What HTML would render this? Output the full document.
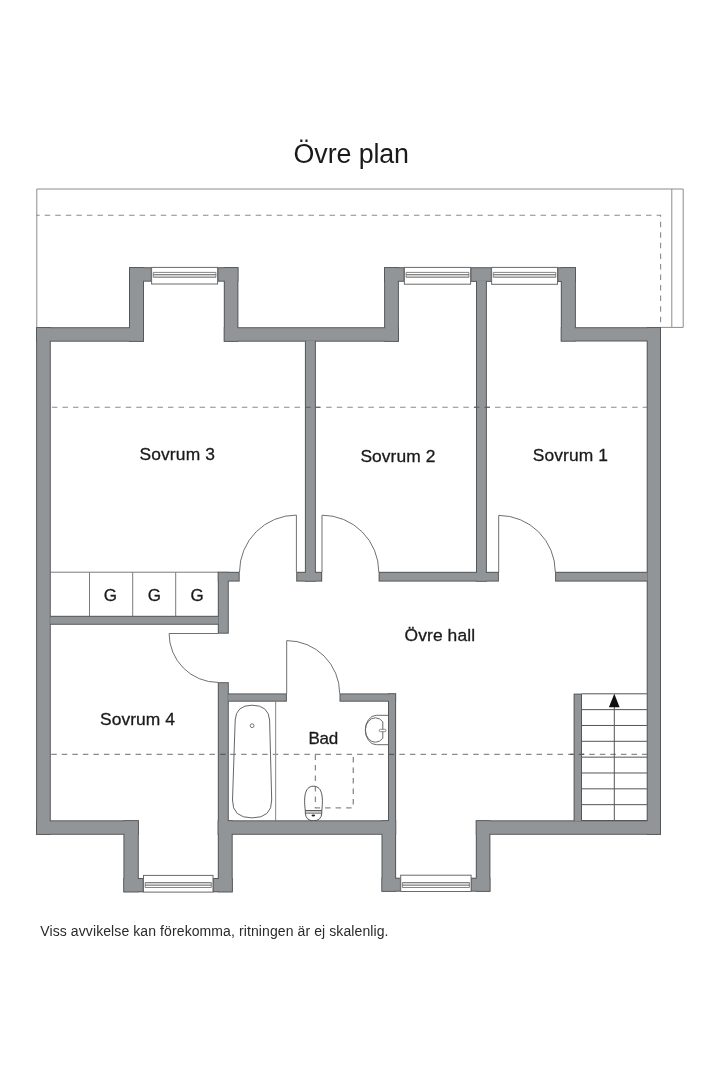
<!DOCTYPE html>
<html><head><meta charset="utf-8"><title>Övre plan</title>
<style>
html,body{margin:0;padding:0;background:#fff;}
body{width:720px;height:1080px;overflow:hidden;}
svg{display:block;font-family:"Liberation Sans",sans-serif;}
text{-webkit-font-smoothing:antialiased;}
svg{will-change:transform;}
</style></head><body>
<svg width="720" height="1080" viewBox="0 0 720 1080">
<rect x="0" y="0" width="720" height="1080" fill="#fff"/>
<defs><clipPath id="cw1"><rect x="300" y="400" width="20" height="15"/><rect x="470" y="400" width="20" height="15"/></clipPath><clipPath id="cw2"><rect x="215" y="745" width="16" height="15"/><rect x="385" y="745" width="14" height="15"/><rect x="570" y="745" width="15" height="15"/></clipPath></defs>
<path d="M36.8,327.4 V189 H683.2 V327.4 H660.8 M671.8,189 V327.4" fill="none" stroke="#8c8c8c" stroke-width="1"/>
<path d="M36.3,215.2 H660.6 V327.4" fill="none" stroke="#8a8a8a" stroke-width="1.1" stroke-dasharray="5.5 5.05" stroke-dashoffset="2.15"/>
<path d="M50.6,407.3 H646.9" fill="none" stroke="#8a8a8a" stroke-width="1.1" stroke-dasharray="5.5 5.05" stroke-dashoffset="-1.3"/>
<path d="M50.6,754.4 H646.9" fill="none" stroke="#8a8a8a" stroke-width="1.1" stroke-dasharray="5.5 5.05" stroke-dashoffset="-0.6"/>
<path d="M50.6,572.2 H218 M89.5,572.2 V616 M132.7,572.2 V616 M175.7,572.2 V616" fill="none" stroke="#7a7a7a" stroke-width="1"/>
<path d="M239.5,572 A56.9,56.9 0 0 1 296.4,515.1 V572" fill="none" stroke="#707070" stroke-width="1"/>
<path d="M378.8,572 A56.8,56.8 0 0 0 322,515.2 V572" fill="none" stroke="#707070" stroke-width="1"/>
<path d="M555.3,572 A56.6,56.6 0 0 0 498.7,515.4 V572" fill="none" stroke="#707070" stroke-width="1"/>
<path d="M218,682.4 A48.9,48.9 0 0 1 169.1,633.5 H218" fill="none" stroke="#707070" stroke-width="1"/>
<path d="M339.7,693.6 A53,53 0 0 0 286.7,640.6 V693.6" fill="none" stroke="#707070" stroke-width="1"/>
<path d="M275.6,701.5 V820.5" fill="none" stroke="#9a9a9a" stroke-width="1.2"/>
<path d="M235.2,720 Q236,705.2 252.1,705.2 Q268.5,705.2 269.6,720 L271.7,800 Q272,817.9 252.1,817.9 Q232.2,817.9 232.5,800 Z" fill="none" stroke="#666" stroke-width="1"/>
<circle cx="252.1" cy="725.7" r="1.9" fill="none" stroke="#666" stroke-width="0.9"/>
<path d="M388.2,715.3 H376.3 A11,14.7 0 0 0 376.3,744.7 H388.2" fill="#fff" stroke="#6a6a6a" stroke-width="1"/>
<path d="M382.8,721.8 A10,12.2 0 1 0 382.8,738.2 Z" fill="none" stroke="#6a6a6a" stroke-width="1"/>
<rect x="379.2" y="729.3" width="6.8" height="2.4" rx="1.2" fill="#fff" stroke="#6a6a6a" stroke-width="0.8"/>
<path d="M315.4,754.6 V807.9 H353.3 V754.6" fill="none" stroke="#8a8a8a" stroke-width="1.3" stroke-dasharray="5.5 5"/>
<path d="M305.3,810.7 C304,800 303.6,786.2 313.5,786.2 C323.4,786.2 323,800 321.8,810.7 Z" fill="none" stroke="#555" stroke-width="1"/>
<path d="M305.3,810.7 H321.8 M305.3,813.1 H321.8 M305.3,810.7 V813.1 Q305.8,820.8 313.5,820.8 Q321.3,820.8 321.8,813.1 V810.7" fill="none" stroke="#555" stroke-width="1"/>
<ellipse cx="313.3" cy="815.6" rx="1.8" ry="1.0" fill="#222"/>
<path d="M581.8,693.80 H646.9 M581.8,709.64 H646.9 M581.8,725.47 H646.9 M581.8,741.31 H646.9 M581.8,757.15 H646.9 M581.8,772.99 H646.9 M581.8,788.83 H646.9 M581.8,804.66 H646.9 M581.8,820.50 H646.9 M614.3,707 V820.5" fill="none" stroke="#555" stroke-width="1"/>
<path d="M614.3,693.8 L619.6,707.2 L608.9,707.2 Z" fill="#111"/>
<rect x="37.10" y="328.20" width="12.70" height="505.60" fill="none" stroke="#55585a" stroke-width="2.0"/>
<rect x="37.10" y="328.20" width="105.90" height="12.50" fill="none" stroke="#55585a" stroke-width="2.0"/>
<rect x="130.00" y="268.20" width="13.00" height="72.50" fill="none" stroke="#55585a" stroke-width="2.0"/>
<rect x="130.00" y="268.20" width="20.80" height="12.50" fill="none" stroke="#55585a" stroke-width="2.0"/>
<rect x="218.40" y="268.20" width="19.00" height="12.50" fill="none" stroke="#55585a" stroke-width="2.0"/>
<rect x="224.80" y="268.20" width="12.60" height="72.50" fill="none" stroke="#55585a" stroke-width="2.0"/>
<rect x="224.80" y="328.20" width="173.10" height="12.50" fill="none" stroke="#55585a" stroke-width="2.0"/>
<rect x="385.10" y="268.20" width="12.80" height="72.50" fill="none" stroke="#55585a" stroke-width="2.0"/>
<rect x="385.10" y="268.20" width="18.50" height="12.60" fill="none" stroke="#55585a" stroke-width="2.0"/>
<rect x="471.40" y="268.20" width="19.40" height="12.70" fill="none" stroke="#55585a" stroke-width="2.0"/>
<rect x="558.30" y="268.20" width="16.60" height="12.80" fill="none" stroke="#55585a" stroke-width="2.0"/>
<rect x="561.80" y="268.20" width="13.10" height="72.30" fill="none" stroke="#55585a" stroke-width="2.0"/>
<rect x="561.80" y="328.20" width="98.20" height="12.30" fill="none" stroke="#55585a" stroke-width="2.0"/>
<rect x="647.70" y="328.20" width="12.30" height="505.60" fill="none" stroke="#55585a" stroke-width="2.0"/>
<rect x="37.10" y="821.30" width="100.70" height="12.50" fill="none" stroke="#55585a" stroke-width="2.0"/>
<rect x="124.40" y="821.30" width="13.40" height="70.00" fill="none" stroke="#55585a" stroke-width="2.0"/>
<rect x="124.40" y="879.00" width="18.30" height="12.30" fill="none" stroke="#55585a" stroke-width="2.0"/>
<rect x="213.80" y="879.00" width="17.90" height="12.30" fill="none" stroke="#55585a" stroke-width="2.0"/>
<rect x="218.80" y="821.30" width="12.90" height="70.00" fill="none" stroke="#55585a" stroke-width="2.0"/>
<rect x="218.80" y="821.30" width="176.30" height="12.50" fill="none" stroke="#55585a" stroke-width="2.0"/>
<rect x="382.50" y="821.30" width="12.60" height="69.40" fill="none" stroke="#55585a" stroke-width="2.0"/>
<rect x="382.50" y="878.70" width="17.40" height="12.00" fill="none" stroke="#55585a" stroke-width="2.0"/>
<rect x="471.90" y="878.70" width="17.50" height="12.00" fill="none" stroke="#55585a" stroke-width="2.0"/>
<rect x="476.80" y="821.30" width="12.60" height="69.40" fill="none" stroke="#55585a" stroke-width="2.0"/>
<rect x="476.80" y="821.30" width="183.20" height="12.50" fill="none" stroke="#55585a" stroke-width="2.0"/>
<rect x="305.90" y="340.80" width="9.00" height="239.80" fill="none" stroke="#55585a" stroke-width="2.0"/>
<rect x="477.00" y="280.80" width="8.90" height="299.80" fill="none" stroke="#55585a" stroke-width="2.0"/>
<rect x="218.80" y="572.80" width="19.90" height="7.80" fill="none" stroke="#55585a" stroke-width="2.0"/>
<rect x="297.20" y="572.80" width="24.00" height="7.80" fill="none" stroke="#55585a" stroke-width="2.0"/>
<rect x="379.60" y="572.80" width="118.30" height="7.80" fill="none" stroke="#55585a" stroke-width="2.0"/>
<rect x="556.10" y="572.80" width="91.30" height="7.80" fill="none" stroke="#55585a" stroke-width="2.0"/>
<rect x="218.80" y="572.80" width="9.00" height="59.90" fill="none" stroke="#55585a" stroke-width="2.0"/>
<rect x="218.80" y="683.20" width="9.00" height="150.60" fill="none" stroke="#55585a" stroke-width="2.0"/>
<rect x="50.20" y="616.80" width="168.20" height="7.00" fill="none" stroke="#55585a" stroke-width="2.0"/>
<rect x="228.20" y="694.40" width="57.70" height="6.30" fill="none" stroke="#55585a" stroke-width="2.0"/>
<rect x="340.50" y="694.40" width="54.60" height="6.30" fill="none" stroke="#55585a" stroke-width="2.0"/>
<rect x="389.00" y="694.40" width="6.10" height="139.40" fill="none" stroke="#55585a" stroke-width="2.0"/>
<rect x="574.60" y="694.60" width="6.40" height="126.30" fill="none" stroke="#55585a" stroke-width="2.0"/>
<rect x="37.10" y="328.20" width="12.70" height="505.60" fill="#929597"/>
<rect x="37.10" y="328.20" width="105.90" height="12.50" fill="#929597"/>
<rect x="130.00" y="268.20" width="13.00" height="72.50" fill="#929597"/>
<rect x="130.00" y="268.20" width="20.80" height="12.50" fill="#929597"/>
<rect x="218.40" y="268.20" width="19.00" height="12.50" fill="#929597"/>
<rect x="224.80" y="268.20" width="12.60" height="72.50" fill="#929597"/>
<rect x="224.80" y="328.20" width="173.10" height="12.50" fill="#929597"/>
<rect x="385.10" y="268.20" width="12.80" height="72.50" fill="#929597"/>
<rect x="385.10" y="268.20" width="18.50" height="12.60" fill="#929597"/>
<rect x="471.40" y="268.20" width="19.40" height="12.70" fill="#929597"/>
<rect x="558.30" y="268.20" width="16.60" height="12.80" fill="#929597"/>
<rect x="561.80" y="268.20" width="13.10" height="72.30" fill="#929597"/>
<rect x="561.80" y="328.20" width="98.20" height="12.30" fill="#929597"/>
<rect x="647.70" y="328.20" width="12.30" height="505.60" fill="#929597"/>
<rect x="37.10" y="821.30" width="100.70" height="12.50" fill="#929597"/>
<rect x="124.40" y="821.30" width="13.40" height="70.00" fill="#929597"/>
<rect x="124.40" y="879.00" width="18.30" height="12.30" fill="#929597"/>
<rect x="213.80" y="879.00" width="17.90" height="12.30" fill="#929597"/>
<rect x="218.80" y="821.30" width="12.90" height="70.00" fill="#929597"/>
<rect x="218.80" y="821.30" width="176.30" height="12.50" fill="#929597"/>
<rect x="382.50" y="821.30" width="12.60" height="69.40" fill="#929597"/>
<rect x="382.50" y="878.70" width="17.40" height="12.00" fill="#929597"/>
<rect x="471.90" y="878.70" width="17.50" height="12.00" fill="#929597"/>
<rect x="476.80" y="821.30" width="12.60" height="69.40" fill="#929597"/>
<rect x="476.80" y="821.30" width="183.20" height="12.50" fill="#929597"/>
<rect x="305.90" y="340.80" width="9.00" height="239.80" fill="#929597"/>
<rect x="477.00" y="280.80" width="8.90" height="299.80" fill="#929597"/>
<rect x="218.80" y="572.80" width="19.90" height="7.80" fill="#929597"/>
<rect x="297.20" y="572.80" width="24.00" height="7.80" fill="#929597"/>
<rect x="379.60" y="572.80" width="118.30" height="7.80" fill="#929597"/>
<rect x="556.10" y="572.80" width="91.30" height="7.80" fill="#929597"/>
<rect x="218.80" y="572.80" width="9.00" height="59.90" fill="#929597"/>
<rect x="218.80" y="683.20" width="9.00" height="150.60" fill="#929597"/>
<rect x="50.20" y="616.80" width="168.20" height="7.00" fill="#929597"/>
<rect x="228.20" y="694.40" width="57.70" height="6.30" fill="#929597"/>
<rect x="340.50" y="694.40" width="54.60" height="6.30" fill="#929597"/>
<rect x="389.00" y="694.40" width="6.10" height="139.40" fill="#929597"/>
<rect x="574.60" y="694.60" width="6.40" height="126.30" fill="#929597"/>
<rect x="151.60" y="267.40" width="66.00" height="16.60" fill="#fff" stroke="#6a6a6a" stroke-width="1"/><rect x="153.30" y="274.50" width="62.60" height="2.80" fill="#d4d4d4" stroke="none"/><path d="M153.30,272.4 H215.90 M153.30,274.5 H215.90 M153.30,277.3 H215.90 M153.30,272.4 V277.3 M215.90,272.4 V277.3" fill="none" stroke="#777" stroke-width="0.9"/>
<rect x="404.40" y="267.40" width="66.20" height="16.80" fill="#fff" stroke="#6a6a6a" stroke-width="1"/><rect x="406.10" y="274.50" width="62.80" height="2.80" fill="#d4d4d4" stroke="none"/><path d="M406.10,272.4 H468.90 M406.10,274.5 H468.90 M406.10,277.3 H468.90 M406.10,272.4 V277.3 M468.90,272.4 V277.3" fill="none" stroke="#777" stroke-width="0.9"/>
<rect x="491.60" y="267.40" width="65.90" height="16.90" fill="#fff" stroke="#6a6a6a" stroke-width="1"/><rect x="493.30" y="274.50" width="62.50" height="2.80" fill="#d4d4d4" stroke="none"/><path d="M493.30,272.4 H555.80 M493.30,274.5 H555.80 M493.30,277.3 H555.80 M493.30,272.4 V277.3 M555.80,272.4 V277.3" fill="none" stroke="#777" stroke-width="0.9"/>
<rect x="143.50" y="875.40" width="69.50" height="16.70" fill="#fff" stroke="#6a6a6a" stroke-width="1"/><rect x="145.20" y="882.50" width="66.10" height="2.80" fill="#d4d4d4" stroke="none"/><path d="M145.20,882.5 H211.30 M145.20,885.3 H211.30 M145.20,887.5 H211.30 M145.20,882.5 V887.5 M211.30,882.5 V887.5" fill="none" stroke="#777" stroke-width="0.9"/>
<rect x="400.70" y="875.20" width="70.40" height="16.30" fill="#fff" stroke="#6a6a6a" stroke-width="1"/><rect x="402.40" y="882.50" width="67.00" height="2.80" fill="#d4d4d4" stroke="none"/><path d="M402.40,882.5 H469.40 M402.40,885.3 H469.40 M402.40,887.5 H469.40 M402.40,882.5 V887.5 M469.40,882.5 V887.5" fill="none" stroke="#777" stroke-width="0.9"/>
<path d="M50.6,407.3 H646.9" fill="none" stroke="#5a5a5a" stroke-width="1.1" stroke-dasharray="5.5 5.05" stroke-dashoffset="-1.3" clip-path="url(#cw1)"/>
<path d="M50.6,754.4 H646.9" fill="none" stroke="#5a5a5a" stroke-width="1.1" stroke-dasharray="5.5 5.05" stroke-dashoffset="-0.6" clip-path="url(#cw2)"/>
<text x="293.6" y="162.6" font-size="26.8" fill="#1a1a1a" textLength="115.4" lengthAdjust="spacing">Övre plan</text>
<text x="139.4" y="460.0" font-size="17.4" fill="#1a1a1a" stroke="#1a1a1a" stroke-width="0.3" textLength="75.6" lengthAdjust="spacing">Sovrum 3</text>
<text x="360.4" y="461.8" font-size="17.4" fill="#1a1a1a" stroke="#1a1a1a" stroke-width="0.3" textLength="75.0" lengthAdjust="spacing">Sovrum 2</text>
<text x="532.8" y="460.7" font-size="17.4" fill="#1a1a1a" stroke="#1a1a1a" stroke-width="0.3" textLength="75.0" lengthAdjust="spacing">Sovrum 1</text>
<text x="404.6" y="641.0" font-size="17.4" fill="#1a1a1a" stroke="#1a1a1a" stroke-width="0.3" textLength="70.4" lengthAdjust="spacing">Övre hall</text>
<text x="100.0" y="725.0" font-size="17.4" fill="#1a1a1a" stroke="#1a1a1a" stroke-width="0.3" textLength="75.0" lengthAdjust="spacing">Sovrum 4</text>
<text x="308.4" y="744.2" font-size="17" fill="#1a1a1a" stroke="#1a1a1a" stroke-width="0.3" textLength="29.9" lengthAdjust="spacing">Bad</text>
<text x="110.4" y="601" font-size="17" fill="#1a1a1a" stroke="#1a1a1a" stroke-width="0.3" text-anchor="middle">G</text>
<text x="154.4" y="601" font-size="17" fill="#1a1a1a" stroke="#1a1a1a" stroke-width="0.3" text-anchor="middle">G</text>
<text x="197.1" y="601" font-size="17" fill="#1a1a1a" stroke="#1a1a1a" stroke-width="0.3" text-anchor="middle">G</text>
<text x="40.3" y="936.3" font-size="14" fill="#2a2a2a" textLength="348.2" lengthAdjust="spacing">Viss avvikelse kan förekomma, ritningen är ej skalenlig.</text>
</svg>
</body></html>
